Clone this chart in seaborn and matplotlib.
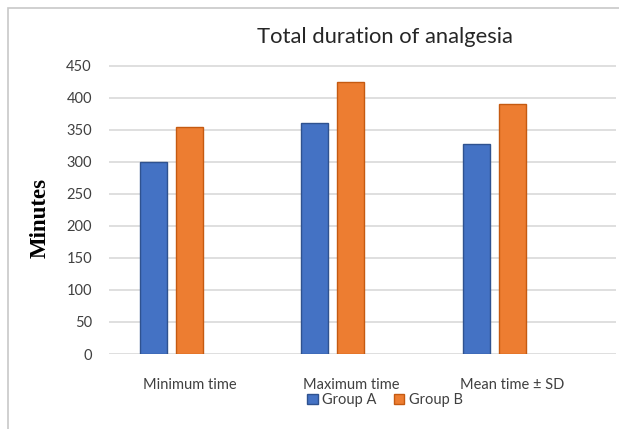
import pandas as pd
import numpy as np
import matplotlib.pyplot as plt
import seaborn as sns
from matplotlib.patches import Patch, Rectangle

# values
categories = ['Minimum time', 'Maximum time', 'Mean time ± SD']
group_a = [300, 360, 327]
group_b = [355, 425, 390]
groups = ['Group A', 'Group B']
colors = {'Group A': '#4472C4', 'Group B': '#ED7D31', ' ': '#FFFFFF'}
edges = {'Group A': '#2F528F', 'Group B': '#C55A11'}

sns.set_style("white")
plt.rcParams['font.family'] = ['Lato', 'DejaVu Sans']

df = pd.DataFrame({
    'Category': categories * 2,
    'Group': ['Group A'] * 3 + ['Group B'] * 3,
    'Minutes': group_a + group_b,
})

fig = plt.figure(figsize=(6.19, 4.29), dpi=100)
ax = fig.add_axes([108.6 / 619, 1 - 354 / 429, 507 / 619, 289 / 429])

# third empty level mimics the blank series slot in the original
sns.barplot(data=df, x='Category', y='Minutes', hue='Group',
            hue_order=['Group A', 'Group B', ' '], palette=colors,
            saturation=1, width=0.67, gap=0.25, ax=ax, legend=False,
            errorbar=None)

for bars, g in zip(ax.containers, groups):
    for b in bars:
        b.set_edgecolor(edges[g])
        b.set_linewidth(1.0)

ax.set_xlim(-0.5, 2.64)
ax.set_ylim(0, 451)
ax.set_yticks(np.arange(0, 451, 50))
ax.yaxis.grid(True, color='#d9d9d9', linewidth=1.2)
ax.set_axisbelow(True)
sns.despine(ax=ax, left=True, bottom=True)
ax.tick_params(axis='both', length=0, labelsize=10.5, labelcolor='#404040')
ax.tick_params(axis='y', pad=12)
ax.tick_params(axis='x', pad=17)
ax.set_xlabel('')
ax.set_ylabel('')

fig.text(385 / 619, 1 - 37 / 429, 'Total duration of analgesia',
         ha='center', va='center', fontsize=15.8, color='#262626')
fig.text(40 / 619, 1 - 218 / 429, 'Minutes', rotation=90, ha='center',
         va='center', fontsize=16.5, fontweight='bold',
         family=['Liberation Serif', 'DejaVu Serif'], color='black')

handles = [Patch(facecolor=colors[g], edgecolor=edges[g], label=g) for g in groups]
fig.legend(handles=handles, loc='center', bbox_to_anchor=(385 / 619, 1 - 400 / 429),
           ncol=2, frameon=False, fontsize=10.5, handlelength=0.7, handleheight=0.7,
           handletextpad=0.3, columnspacing=1.2, labelcolor='#404040')

fig.patches.append(Rectangle((8 / 619, -0.1), 1.2, 1 - 8 / 429 + 0.1,
                             transform=fig.transFigure, fill=False,
                             edgecolor='#c8c8c8', linewidth=1.2))

fig.savefig('out.png', dpi=100)
